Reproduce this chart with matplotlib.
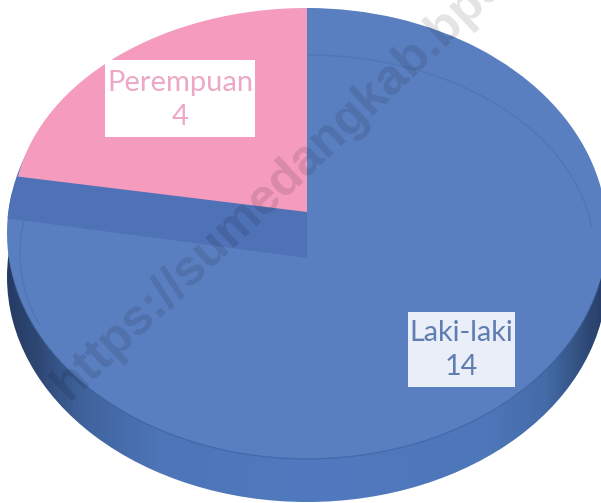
import numpy as np
import matplotlib
matplotlib.use('Agg')
import matplotlib.pyplot as plt
from matplotlib.colors import LinearSegmentedColormap
from matplotlib.patches import Arc, Ellipse, Rectangle
from matplotlib.path import Path
from matplotlib.transforms import Affine2D

categories = ['Laki-laki', 'Perempuan']
values = [14, 4]

W, H = 601, 503
BLUE = '#5A7FC0'
BLUE_DARK = '#4F71B6'
PINK = '#F49BBE'

plt.rcParams['font.family'] = ['Lato', 'DejaVu Sans']
fig = plt.figure(figsize=(W / 100, H / 100), dpi=100, facecolor='white')


def pixel_axes():
    ax = fig.add_axes([0, 0, 1, 1])
    ax.set_xlim(0, W)
    ax.set_ylim(H, 0)
    ax.axis('off')
    return ax


def pie_layer(cx, cy, rx, ry, colors, radius=1.0):
    # axes scaled so a unit circle lands on the wanted ellipse
    ax = fig.add_axes([0, 0, 1, 1])
    wedges, _ = ax.pie(values, colors=colors, startangle=90, counterclock=False,
                       radius=radius, wedgeprops={'linewidth': 0})
    ax.set_aspect('auto')
    ax.set_xlim((0 - cx) / rx, (W - cx) / rx)
    ax.set_ylim((cy - H) / ry, (cy - 0) / ry)
    ax.axis('off')
    return ax, wedges


def ellipse_path(cx, cy, rx, ry):
    return Path.unit_circle().transformed(Affine2D().scale(rx, ry).translate(cx, cy))


# side of the disc
base = pixel_axes()
side_cmap = LinearSegmentedColormap.from_list('side', [
    (0.00, '#263C66'), (0.05, '#2E4875'), (0.12, '#3F629B'), (0.25, '#4D75B8'),
    (0.50, '#5079BF'), (0.80, '#4E77BA'), (0.90, '#456CA8'), (0.97, '#2F4A78'),
    (1.00, '#263C66')])
im = base.imshow(np.linspace(0, 1, 300).reshape(1, -1), cmap=side_cmap, aspect='auto',
                 extent=(7, 607, 503, 233), zorder=1)
base.set_xlim(0, W)
base.set_ylim(H, 0)
side_clip = Ellipse((307, 277), 600, 450, transform=base.transData, fc='none', ec='none')
base.add_patch(side_clip)
im.set_clip_path(side_clip)

# top face, the pink part left open
top_ax, top_wedges = pie_layer(307, 233, 300, 225, [BLUE, 'none'])
top_wedges[1].set_visible(False)

lines = pixel_axes()
lines.add_patch(Arc((307, 233), 600, 452, theta1=10, theta2=170, ec='#3F639F', lw=0.8, alpha=0.7))
lines.add_patch(Arc((307, 253), 574, 396, theta1=270, theta2=355, ec='#5175B6', lw=1.0))
lines.add_patch(Arc((307, 253), 574, 396, theta1=165, theta2=195, ec='#5175B6', lw=1.0))

# inner wall seen below the pink slice
wall_ax, wall_wedges = pie_layer(307, 258, 300, 225, [BLUE, BLUE_DARK], radius=1.06)
wall_wedges[0].set_visible(False)
wall_clip = Ellipse((307, 233), 600, 450, transform=lines.transData, fc='none', ec='none')
lines.add_patch(wall_clip)
wall_wedges[1].set_clip_on(True)
wall_wedges[1].set_clip_path(wall_clip)

# pink slice
pink_ax, pink_wedges = pie_layer(307, 212, 293.5, 204, [BLUE, PINK])
pink_wedges[0].set_visible(False)

# labels and watermark
top = pixel_axes()
top.add_patch(Rectangle((105, 60), 150, 77, fc='#FFFFFF', ec='none', zorder=3))
top.add_patch(Rectangle((408, 312), 107, 75, fc='#E9EEF8', ec='none', zorder=3))
top.text(180, 100, f'{categories[1]}\n{values[1]}', color='#EDA8C5', fontsize=21,
         ha='center', va='center', linespacing=1.42, zorder=4)
top.text(461, 350, f'{categories[0]}\n{values[0]}', color='#5F7DB0', fontsize=20.7,
         ha='center', va='center', linespacing=1.42, zorder=4)

mark = 'https://sumedangkab.bps.go.id'
wm_font = ['Liberation Sans', 'DejaVu Sans']
disc = Path.make_compound_path(ellipse_path(307, 233, 300, 225), ellipse_path(307, 277, 300, 225))
wm = top.text(60, 392, mark, color='#000000', alpha=0.09, fontsize=36, fontweight='bold',
              family=wm_font, rotation=43.5, rotation_mode='anchor',
              ha='left', va='center', zorder=2)
wm.set_clip_path(disc, transform=top.transData)
top.text(60, 392, mark, color='#000000', alpha=0.025, fontsize=36, fontweight='bold',
         family=wm_font, rotation=43.5, rotation_mode='anchor',
         ha='left', va='center', zorder=2, clip_on=True)

fig.savefig('out.png', dpi=100)
